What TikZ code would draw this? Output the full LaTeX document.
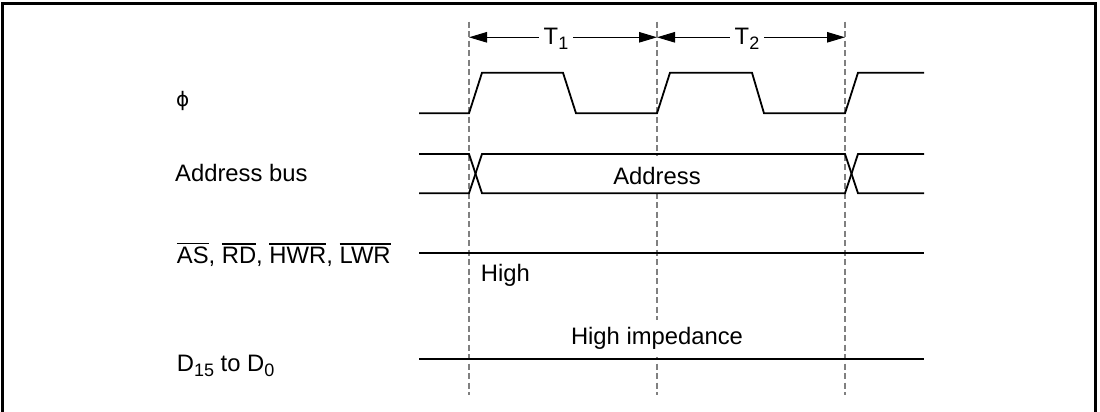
\documentclass[tikz,border=0pt]{standalone}
\usepackage{fontspec}
\setmainfont{Liberation Sans}
\newfontfamily\dejavu{DejaVu Sans}
\usetikzlibrary{arrows.meta}
\newcommand\ovl[1]{\leavevmode\vbox{\hrule height 1.2pt\kern 2.4pt\hbox{#1}}}
\newcommand\sbs[1]{\raisebox{-5pt}{\fontsize{18}{20}\selectfont #1}}
\begin{document}
\begin{tikzpicture}[x=1pt,y=-1pt,
  font=\fontsize{23.8}{28}\selectfont,
  every node/.style={inner sep=0pt},
  sig/.style={line width=1.8pt, line join=miter},
  guide/.style={draw=black!50, line width=1.2pt, dash pattern=on 6pt off 3.5pt},
  frame/.style={line width=3pt},
  span/.style={line width=1pt, {Triangle[length=18pt,width=10.5pt]}-{Triangle[length=18pt,width=10.5pt]}},
  lbl/.style={anchor=base west},
  plab/.style={fill=white, inner xsep=5pt, inner ysep=2pt, anchor=base},
  mask/.style={fill=white, anchor=base, inner xsep=3pt}]
\useasboundingbox (0,0) rectangle (1100,412);
% frame (open at bottom)
\draw[frame] (2.7,412) -- (2.7,3.5) -- (1095.7,3.5) -- (1095.7,412);
% guide lines
\coordinate (g1t) at (469,21.7); \coordinate (g1b) at (469,395);
\coordinate (g2t) at (657,21.7); \coordinate (g2b) at (657,395);
\coordinate (g3t) at (845,21.7); \coordinate (g3b) at (845,395);
\draw[guide] (g1t) -- (g1b);
\draw[guide] (g2t) -- (g2b);
\draw[guide] (g3t) -- (g3b);
% period arrows
\coordinate (a1) at (469,37.3);
\coordinate (a2) at (657,37.3);
\coordinate (a3) at (845,37.3);
\draw[span] (a1) -- (a2);
\draw[span] (a2) -- (a3);
\node[plab] (t1) at (556,45) {T\sbs{1}};
\node[plab] (t2) at (747,45) {T\sbs{2}};
% texts that hide the guide lines behind them
\node[mask, text height=28.5pt, text depth=8pt] (addr) at (657,184.3) {Address};
\node[mask, text height=24pt, text depth=13pt] (hiz) at (657,344) {High impedance};
% phi clock
\draw[sig] (419,113.3) -- (469,113.3) -- (482,72.7) -- (563,72.7) -- (576,113.3)
  -- (657,113.3) -- (670,72.7) -- (752,72.7) -- (764,113.3)
  -- (845,113.3) -- (858,72.7) -- (924,72.7);
% address bus
\draw[sig] (419,154) -- (469,154) -- (482,193.3) -- (845,193.3) -- (858,154) -- (924,154);
\draw[sig] (419,193.3) -- (469,193.3) -- (482,154) -- (845,154) -- (858,193.3) -- (924,193.3);
% strobes
\draw[sig] (419,253.3) -- (924,253.3);
% data bus
\draw[sig] (419,359) -- (924,359);
% labels
\node[lbl] (lphi) at (176,106) {\dejavu\fontsize{20}{22}\selectfont ϕ};
\node[lbl] (laddr) at (175,181.7) {Address bus};
\node[lbl] (lstr) at (176.7,263.3) {\ovl{AS}, \ovl{RD}, \ovl{HWR}, \ovl{LWR}};
\node[lbl] (ldata) at (176.7,371.7) {D\sbs{15} to D\sbs{0}};
\node[lbl] (high) at (480.7,281.7) {High};
\end{tikzpicture}
\end{document}
